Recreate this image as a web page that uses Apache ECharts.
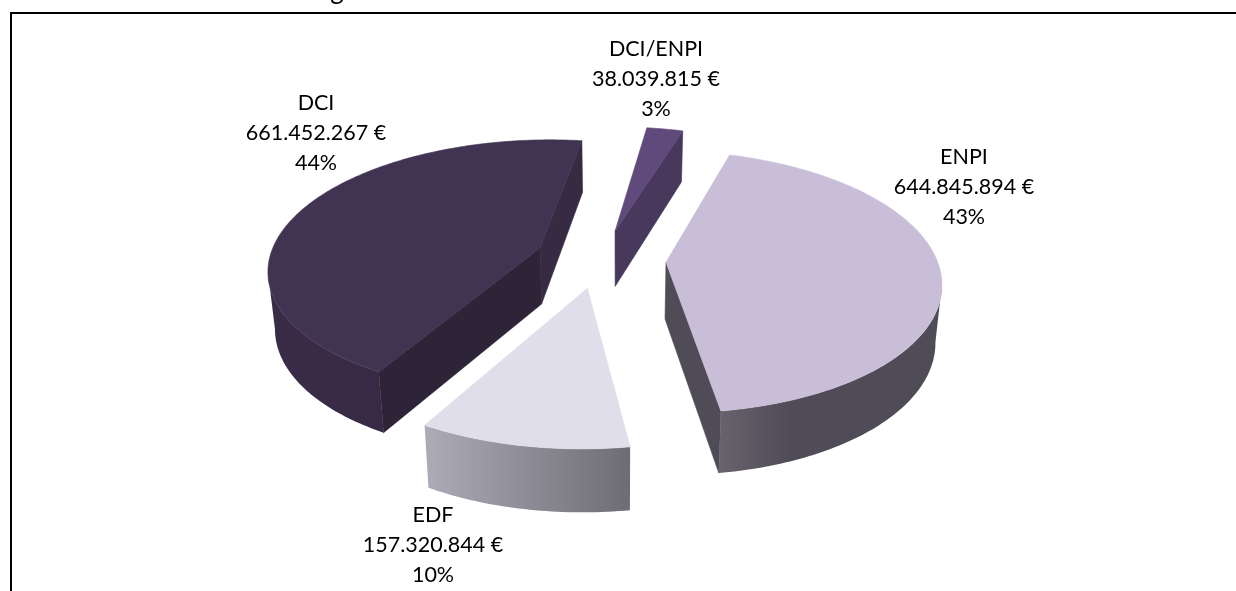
<!DOCTYPE html>
<html><head><meta charset="utf-8">
<style>html,body{margin:0;padding:0;background:#fff}#c{width:1236px;height:591px}</style>
<script src="https://cdn.jsdelivr.net/npm/echarts@6/dist/echarts.min.js"></script>
</head><body><div id="c"></div>
<script>
const categories = ['DCI', 'DCI/ENPI', 'ENPI', 'EDF'];
const amounts = [661452267, 38039815, 644845894, 157320844];
const firstSliceAngle = 209.3;

// view model
const view = {cx: 618, cy: 260, k: 271, ks: 127.5, p: 0.148, depth: 56.5, depthP: 0.09, baseScale: 0.98};
const explode = [[-0.2918, 0.0951], [-0.0112, 0.2344], [0.1766, -0.018], [-0.1095, -0.215]];
const labelAt = [[316, 133], [656, 79], [964, 187], [433, 545]];
const styles = [
  {faceA: '#2e2438', faceB: '#372a43', surface: '#413352', wall: ['#3a2c47', '#382a44']},
  {faceA: '#47385c', faceB: '#47385c', surface: '#604a7b', wall: ['#47385c', '#47385c']},
  {faceA: '#4f4c57', faceB: '#4f4c57', surface: '#c9bed8', wall: ['#69636d', '#4f4c57', '#4f4c57']},
  {faceA: '#8a8790', faceB: '#8a8790', surface: '#e0deea', wall: ['#aeabb9', '#6e6c73']}
];

const total = amounts.reduce((a, b) => a + b, 0);
const fmtEuro = v => String(v).replace(/\B(?=(\d{3})+$)/g, '.') + ' €';
const rad = d => d * Math.PI / 180;

function projTop(u, v) {
  const w = 1 + view.p * v;
  return [view.cx + view.k * u / w, view.cy - view.ks * v / w];
}
function projBase(u, v) {
  const t = projTop(u, v);
  return [view.cx + view.baseScale * (t[0] - view.cx), t[1] + view.depth / (1 + view.depthP * v)];
}
function cross(a, b) { return a[0] * b[1] - a[1] * b[0]; }
function sub(a, b) { return [a[0] - b[0], a[1] - b[1]]; }

function renderItem(params, api) {
  const i = params.dataIndex;
  let before = 0;
  for (let j = 0; j < i; j++) before += amounts[j];
  const value = api.value(1);
  const a0 = firstSliceAngle + before / total * 360;
  const a1 = a0 + value / total * 360;
  const [ou, ov] = explode[i];
  const st = styles[i];
  const rim = [];
  const n = Math.max(6, Math.ceil(a1 - a0));
  for (let s = 0; s <= n; s++) {
    const a = rad(a0 + (a1 - a0) * s / n);
    rim.push([ou + Math.sin(a), ov + Math.cos(a)]);
  }
  const topRim = rim.map(p => projTop(p[0], p[1]));
  const botRim = rim.map(p => projBase(p[0], p[1]));
  const apexT = projTop(ou, ov), apexB = projBase(ou, ov);
  const mid = topRim[Math.floor(n / 2)];
  const children = [];

  // radial faces, only the ones turned to the viewer
  [[0, st.faceA], [n, st.faceB]].forEach(([idx, color]) => {
    const d = sub(topRim[idx], apexT);
    if (cross(d, [0, 1]) * cross(d, sub(mid, apexT)) < 0) {
      children.push({type: 'polygon', shape: {points: [apexT, topRim[idx], botRim[idx], apexB]},
        style: {fill: color, stroke: color, lineWidth: 0.6}});
    }
  });
  // outer wall: the part of the rim that runs right to left on screen
  const vis = [];
  for (let s = 0; s < n; s++) if (topRim[s + 1][0] < topRim[s][0]) vis.push(s);
  if (vis.length) {
    const from = vis[0], to = vis[vis.length - 1] + 1;
    const pts = [];
    for (let s = from; s <= to; s++) pts.push(topRim[s]);
    for (let s = to; s >= from; s--) pts.push(botRim[s]);
    const cols = st.wall;
    const stops = cols.length === 3
      ? [{offset: 0, color: cols[0]}, {offset: 0.32, color: cols[1]}, {offset: 1, color: cols[2]}]
      : [{offset: 0, color: cols[0]}, {offset: 1, color: cols[1]}];
    children.push({type: 'polygon', shape: {points: pts},
      style: {fill: {type: 'linear', x: 0, y: 0, x2: 1, y2: 0, colorStops: stops}}});
  }
  // top surface
  children.push({type: 'polygon', shape: {points: [apexT].concat(topRim)},
    style: {fill: st.surface, stroke: st.surface, lineWidth: 0.6}});
  // label
  children.push({type: 'text', style: {
    text: [categories[i], fmtEuro(value), Math.round(value / total * 100) + '%'].join('\n'),
    x: labelAt[i][0], y: labelAt[i][1], align: 'center', verticalAlign: 'middle',
    fontFamily: 'Lato', fontSize: 21.5, lineHeight: 30.4, fill: '#000'
  }});
  return {type: 'group', children};
}

const chart = echarts.init(document.getElementById('c'), null, {renderer: 'canvas'});
chart.setOption({
  animation: false,
  backgroundColor: '#fff',
  series: [{
    type: 'custom',
    coordinateSystem: 'none',
    silent: true,
    renderItem,
    data: categories.map((c, i) => [i, amounts[i]])
  }],
  graphic: [
    {type: 'line', shape: {x1: 10, y1: 13, x2: 1236, y2: 13}, style: {stroke: '#000', lineWidth: 2}, silent: true},
    {type: 'line', shape: {x1: 11, y1: 13, x2: 11, y2: 591}, style: {stroke: '#000', lineWidth: 2}, silent: true},
    {type: 'text', x: 337, y: 4, silent: true, style: {text: 'g', fontFamily: 'Lato', fontSize: 26, fill: '#000', align: 'center', verticalAlign: 'bottom'}}
  ]
});
</script></body></html>
